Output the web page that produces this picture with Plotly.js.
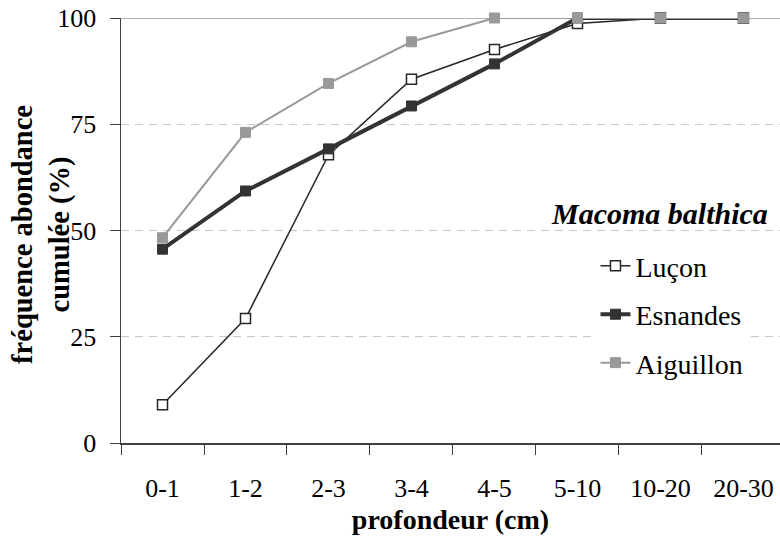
<!DOCTYPE html>
<html>
<head>
<meta charset="utf-8">
<script src="https://cdn.plot.ly/plotly-3.0.1.min.js"></script>
<style>html,body{margin:0;padding:0;background:#fff}#chart{width:780px;height:540px}</style>
</head>
<body>
<div id="chart"></div>
<script>
const categories = ['0-1','1-2','2-3','3-4','4-5','5-10','10-20','20-30'];
const lucon = [9, 29.3, 67.8, 85.6, 92.6, 98.7, 100, 100];
const esnandes = [45.6, 59.3, 69.2, 79.3, 89.2, 100, 100, 100];
const aiguillon = [48.3, 73.1, 84.6, 94.4, 100, 100, 100, 100];
const yTicks = [0, 25, 50, 75, 100];

const FONT = 'Liberation Serif';

const traces = [
  {x: categories, y: lucon, name: 'Luçon', mode: 'lines+markers', type: 'scatter', cliponaxis: false,
   legendgroup: 'a',
   line: {color: '#262626', width: 1.5},
   marker: {symbol: 'square', size: 10, color: '#ffffff', line: {color: '#262626', width: 1.5}}},
  {x: categories, y: esnandes, name: 'Esnandes', mode: 'lines+markers', type: 'scatter', cliponaxis: false,
   legendgroup: 'b',
   line: {color: '#333333', width: 4},
   marker: {symbol: 'square', size: 10, color: '#333333', line: {color: '#333333', width: 1}}},
  {x: categories, y: aiguillon, name: 'Aiguillon', mode: 'lines+markers', type: 'scatter', cliponaxis: false,
   legendgroup: 'c',
   line: {color: '#999999', width: 2},
   marker: {symbol: 'square', size: 10, color: '#999999', line: {color: '#999999', width: 1}}}
];

const layout = {
  width: 780, height: 540,
  margin: {l: 121, r: 0, t: 18, b: 97},
  paper_bgcolor: '#ffffff', plot_bgcolor: '#ffffff',
  font: {family: FONT, size: 26, color: '#000000'},
  showlegend: true,
  legend: {
    x: 0.72, y: 0.475, xanchor: 'left', yanchor: 'top',
    bgcolor: '#ffffff', borderwidth: 0,
    font: {family: FONT, size: 28, color: '#000000'},
    traceorder: 'grouped', tracegroupgap: 9
  },
  xaxis: {
    type: 'category', range: [-0.5, 7.44],
    showline: true, linecolor: '#404040', linewidth: 1.5,
    ticks: 'outside', tickson: 'boundaries', ticklen: 10, tickcolor: '#404040', tickwidth: 1,
    showgrid: false, zeroline: false,
    ticklabelstandoff: 21,
    tickfont: {family: FONT, size: 26, color: '#000000'},
    title: {text: '<b>profondeur (cm)</b>', font: {family: FONT, size: 28, color: '#000000'}, standoff: 7}
  },
  yaxis: {
    range: [0, 100], tickvals: yTicks, ticktext: yTicks.map(String),
    showline: true, linecolor: '#404040', linewidth: 1.5,
    ticks: 'outside', ticklen: 10, tickcolor: '#404040', tickwidth: 1,
    showgrid: true, gridcolor: '#c8c8c8', gridwidth: 1, griddash: '8px,6px',
    zeroline: false,
    ticklabelstandoff: 8,
    tickfont: {family: FONT, size: 26, color: '#000000'}
  },
  shapes: [
    {type: 'line', xref: 'paper', yref: 'y', x0: 0, x1: 1, y0: 100, y1: 100,
     line: {color: '#999999', width: 1.5}, layer: 'below'}
  ],
  annotations: [
    {text: '<b><i>Macoma balthica</i></b>', xref: 'paper', yref: 'paper', x: 0.985, y: 0.541,
     xanchor: 'right', yanchor: 'middle', showarrow: false,
     font: {family: FONT, size: 30, color: '#000000'}},
    {text: '<b>fréquence abondance<br>cumulée (%)</b>', xref: 'paper', yref: 'paper',
     x: -0.1199, y: 0.492, xanchor: 'center', yanchor: 'middle', textangle: -90,
     showarrow: false, align: 'center',
     font: {family: FONT, size: 28.5, color: '#000000'}}
  ]
};

Plotly.newPlot('chart', traces, layout, {displayModeBar: false, staticPlot: true});
</script>
</body>
</html>
